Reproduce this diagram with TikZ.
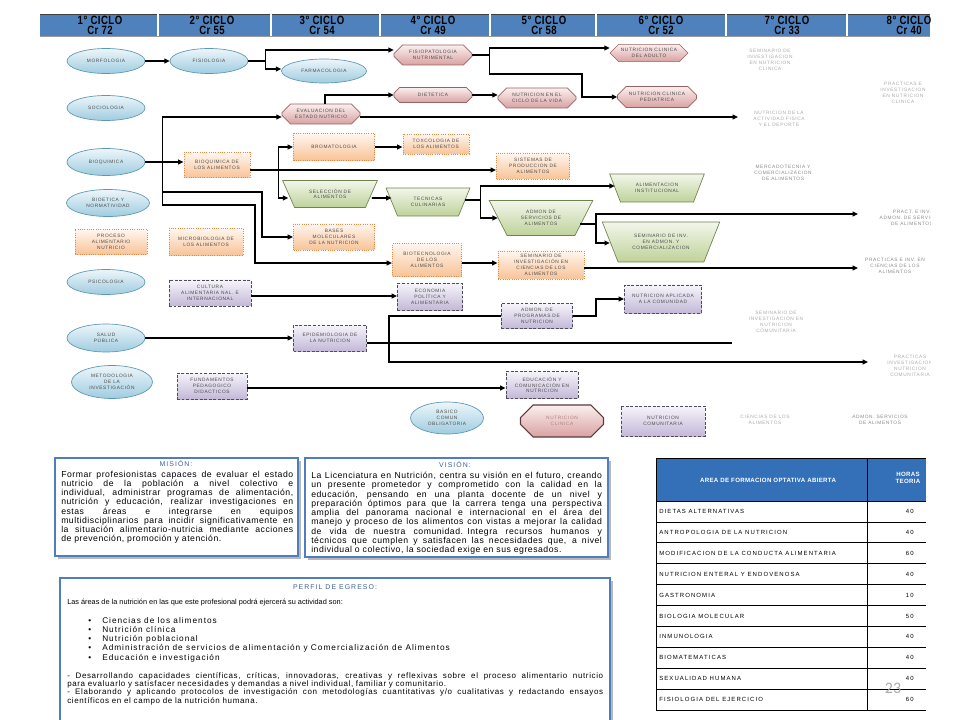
\documentclass[tikz,border=0pt]{standalone}
\usepackage{fontspec}
\setmainfont{Liberation Sans}
\usetikzlibrary{shapes.geometric,shapes.misc,arrows.meta,calc}
\newfontfamily\labff{Liberation Sans}[LetterSpace=13]
\newfontfamily\hdrff{Liberation Sans}[FakeStretch=0.8,LetterSpace=4]
\newfontfamily\bodyff{Liberation Sans}[LetterSpace=6]
\newfontfamily\listff{Liberation Sans}[LetterSpace=12]
\newfontfamily\finff{Liberation Sans}[LetterSpace=8]
\newfontfamily\ttlff{Liberation Sans}[LetterSpace=15]
\newfontfamily\tblff{Liberation Sans}[LetterSpace=18]
\newfontfamily\tblhff{Liberation Sans}[LetterSpace=5]
\newfontfamily\numff{Carlito}
\newcommand\jl[2]{\leavevmode\hbox to #1{\spaceskip=\fontdimen2\font plus 1fil\relax #2}}
\definecolor{ellA}{HTML}{EDF6FA}
\definecolor{ellB}{HTML}{9FCCE0}
\definecolor{ellD}{HTML}{5C98B3}
\definecolor{octA}{HTML}{FBEFEF}
\definecolor{octB}{HTML}{D9A1A1}
\definecolor{octD}{HTML}{9A6262}
\definecolor{ornA}{HTML}{FFF6EE}
\definecolor{ornB}{HTML}{F8C397}
\definecolor{ornD}{HTML}{E38B45}
\definecolor{trpA}{HTML}{F2F6EA}
\definecolor{trpB}{HTML}{BFD29A}
\definecolor{trpD}{HTML}{70834C}
\definecolor{purA}{HTML}{F6F4FA}
\definecolor{purB}{HTML}{C3B8D8}
\definecolor{purD}{HTML}{4D4D5E}
\definecolor{labgray}{HTML}{4C4C4C}
\definecolor{ghostgray}{HTML}{ABABAB}
\definecolor{ghostdark}{HTML}{8A8A8A}
\definecolor{hdrblue}{HTML}{4F81BD}
\definecolor{tblblue}{HTML}{3470B8}
\definecolor{boxblue}{HTML}{4F7DC0}
\definecolor{ttlblue}{HTML}{40618F}
\definecolor{shadowgray}{HTML}{B8B8B8}
\begin{document}
\begin{tikzpicture}[x=0.75pt,y=-0.75pt,
 lab/.style={font={\labff\fontsize{3.6pt}{4.4pt}\selectfont}, text=labgray, align=center, inner sep=0pt},
 sz/.style 2 args={minimum width=#1*0.75pt, minimum height=#2*0.75pt},
 ell/.style={lab, ellipse, draw=ellD, line width=0.5pt, top color=ellA, bottom color=ellB},
 oct/.style={lab, chamfered rectangle, chamfered rectangle xsep=4pt, chamfered rectangle ysep=3pt, draw=octD, line width=0.5pt, top color=octA, bottom color=octB},
 legoct/.style={chamfered rectangle xsep=6pt, chamfered rectangle ysep=6pt, draw=octD!60!black, line width=0.9pt, text=octD!80},
 orn/.style={lab, rectangle, draw=ornD, densely dotted, line width=0.7pt, top color=ornA, bottom color=ornB},
 trp/.style={lab, trapezium, shape border rotate=180, trapezium stretches=true, trapezium left angle=55, trapezium right angle=55, draw=trpD, line width=0.5pt, top color=trpA, bottom color=trpB},
 pur/.style={lab, rectangle, draw=purD, dash pattern=on 2.2pt off 1.2pt, line width=0.7pt, top color=purA, bottom color=purB},
 ghost/.style={lab, text=ghostgray},
 wire/.style={line width=1.2pt, black},
 arr/.style={wire, -{Triangle[length=4pt,width=3.6pt]}},
 hdr/.style={font={\hdrff\bfseries\fontsize{9pt}{7.6pt}\selectfont}, text=black, align=center, inner sep=0pt},
 ttl/.style={font={\ttlff\fontsize{5.2pt}{5.4pt}\selectfont}, text=ttlblue, inner sep=0pt},
 body/.style={font={\bodyff\fontsize{6.5pt}{6.85pt}\selectfont}, text=black, inner sep=0pt, align=left},
 tbl/.style={font={\tblff\fontsize{4.5pt}{5pt}\selectfont}, text=black, inner sep=0pt},
 tblh/.style={font={\tblhff\bfseries\fontsize{4.6pt}{5.2pt}\selectfont}, text=white, inner sep=0pt, align=center}
]
\useasboundingbox (0,0) rectangle (960,720);
\fill[white] (0,0) rectangle (960,720);

\begin{scope}
\clip (0,0) rectangle (930,452);
% header
\fill[hdrblue] (40,14) rectangle (930,36);
\draw[black!75, line width=0.6pt] (40,14) -- (930,14);
\draw[black!40, line width=0.3pt] (40,36) -- (930,36);
\foreach \x in {158,271,380,490,596,726,847} \draw[white, line width=0.8pt] (\x,14.4) -- (\x,36);
\node[hdr] (h1) at (100,25.5) {1° CICLO\\Cr 72};
\node[hdr] (h2) at (212,25.5) {2° CICLO\\Cr 55};
\node[hdr] (h3) at (322,25.5) {3° CICLO\\Cr 54};
\node[hdr] (h4) at (433,25.5) {4° CICLO\\Cr 49};
\node[hdr] (h5) at (544,25.5) {5° CICLO\\Cr 58};
\node[hdr] (h6) at (661,25.5) {6° CICLO\\Cr 52};
\node[hdr] (h7) at (787,25.5) {7° CICLO\\Cr 33};
\node[hdr] (h8) at (909,25.5) {8° CICLO\\Cr 40};

% column 1
\node[ell,sz={78}{25}] (morf) at (106,61) {MORFOLOGIA};
\node[ell,sz={78}{25}] (socio) at (106,108) {SOCIOLOGIA};
\node[ell,sz={78}{27}] (bioq) at (106,162) {BIOQUIMICA};
\node[ell,sz={83}{27}] (bioet) at (108,203) {BIOETICA Y\\NORMATIVIDAD};
\node[orn,sz={72}{25}] (proc) at (111,242) {PROCESO\\ALIMENTARIO\\NUTRICIO};
\node[ell,sz={78}{25}] (psico) at (106,282) {PSICOLOGIA};
\node[ell,sz={78}{28}] (salud) at (106,338) {SALUD\\PÚBLICA};
\node[ell,sz={81}{33}] (metod) at (112,382) {METODOLOGIA\\DE LA\\INVESTIGACIÓN};
% column 2
\node[ell,sz={78}{25}] (fisio) at (209,61) {FISIOLOGIA};
\node[orn,sz={66}{25}] (bioqal) at (217,165) {BIOQUIMICA DE\\LOS ALIMENTOS};
\node[orn,sz={74}{27}] (micro) at (206,242) {MICROBIOLOGIA DE\\LOS ALIMENTOS};
\node[pur,sz={82}{26}] (cult) at (210,293) {CULTURA\\ALIMENTARIA NAL. E\\INTERNACIONAL};
\node[pur,sz={70}{26}] (fund) at (212,386) {FUNDAMENTOS\\PEDAGOGICO\\DIDACTICOS};
% column 3
\node[ell,sz={85}{24}] (farma) at (324,71) {FARMACOLOGIA};
\node[oct,sz={78}{20}] (evalu) at (321,114) {EVALUACION DEL\\ESTADO NUTRICIO};
\node[orn,sz={81}{27}] (broma) at (334,147) {BROMATOLOGIA};
\node[trp,sz={95}{27}] (selec) at (330,194) {SELECCIÓN DE\\ALIMENTOS};
\node[orn,sz={81}{26}] (bases) at (334,237) {BASES\\MOLECULARES\\DE LA NUTRICION};
\node[pur,sz={73}{26}] (epid) at (330,338) {EPIDEMIOLOGIA DE\\LA NUTRICION};
% column 4
\node[oct,sz={78}{20}] (fisiop) at (433,55) {FISIOPATOLOGIA\\NUTRIMENTAL};
\node[oct,sz={78}{15}] (diet) at (433,95) {DIETETICA};
\node[orn,sz={66}{20}] (toxi) at (436,144) {TOXCOLOGIA DE\\LOS ALIMENTOS};
\node[trp,sz={84}{28}] (tecn) at (428,202) {TECNICAS\\CULINARIAS};
\node[orn,sz={69}{33}] (biotec) at (427,260) {BIOTECNOLOGIA\\DE LOS\\ALIMENTOS};
\node[pur,sz={65}{27}] (econ) at (430,297) {ECONOMIA\\POLÍTICA Y\\ALIMENTARIA};
\node[ell,sz={73}{32}] (basico) at (447,418) {BASICO\\COMUN\\OBLIGATORIA};
% column 5
\node[oct,sz={78}{20}] (ciclo) at (537,98) {NUTRICION EN EL\\CICLO DE LA VIDA};
\node[orn,sz={73}{26}] (sist) at (533,166) {SISTEMAS DE\\PRODUCCION DE\\ALIMENTOS};
\node[trp,sz={104}{35}] (admon) at (541,218) {ADMON DE\\SERVICIOS DE\\ALIMENTOS};
\node[orn,sz={86}{28}] (semcien) at (541,265) {SEMINARIO DE\\INVESTIGACIÓN EN\\CIENCIAS DE LOS\\ALIMENTOS};
\node[pur,sz={71}{25}] (admprog) at (537,316) {ADMON. DE\\PROGRAMAS DE\\NUTRICION};
\node[pur,sz={72}{27}] (educ) at (542,385) {EDUCACIÓN Y\\COMUNICACIÓN EN\\NUTRICION};
\node[oct,legoct,sz={83}{32}] (legclin) at (562,421) {NUTRICION\\CLINICA};
% column 6
\node[oct,sz={78}{17}] (adulto) at (649,53) {NUTRICION CLINICA\\DEL ADULTO};
\node[oct,sz={79}{21}] (pedia) at (657,97) {NUTRICION CLINICA\\PEDIATRICA};
\node[trp,sz={95}{28}] (alim) at (657,188) {ALIMENTACION\\INSTITUCIONAL};
\node[trp,sz={118}{40}] (seminv) at (661,242) {SEMINARIO DE INV.\\EN ADMON. Y\\COMERCIALIZACION};
\node[pur,sz={77}{28}] (aplic) at (663,299) {NUTRICION APLICADA\\A LA COMUNIDAD};
\node[pur,sz={84}{30}] (legcom) at (663,421) {NUTRICION\\COMUNITARIA};
% columns 7-8 (faint)
\node[ghost] (g7a) at (770,60) {SEMINARIO DE\\INVESTIGACION\\EN NUTRICION\\CLINICA};
\node[ghost] (g7b) at (779,119) {NUTRICION DE LA\\ACTIVIDAD FISICA\\Y EL DEPORTE};
\node[ghost,text=ghostdark] (g7c) at (783,173) {MERCADOTECNIA Y\\COMERCIALIZACION\\DE ALIMENTOS};
\node[ghost] (g7d) at (776,322) {SEMINARIO DE\\INVESTIGACION EN\\NUTRICION\\COMUNITARIA};
\node[ghost] (g7e) at (765,420) {CIENCIAS DE LOS\\ALIMENTOS};
\node[ghost] (g8a) at (903,93) {PRACTICAS E\\INVESTIGACION\\EN NUTRICION\\CLINICA};
\node[ghost,text=ghostdark] (g8b) at (912,218) {PRACT. E INV.\\ADMON. DE SERVICIOS\\DE ALIMENTOS};
\node[ghost,text=ghostdark] (g8c) at (895,266) {PRACTICAS E INV. EN\\CIENCIAS DE LOS\\ALIMENTOS};
\node[ghost] (g8d) at (910,366) {PRACTICAS\\INVESTIGACION\\NUTRICION\\COMUNITARIA};
\node[ghost,text=ghostdark] (g8e) at (880,420) {ADMON. SERVICIOS\\DE ALIMENTOS};

% connectors
\draw[arr] (morf) -- (fisio);
\coordinate (jf) at ($(fisio.east)+(17,0)$);
\draw[wire] (fisio.east) -- (jf);
\draw[arr] (jf) |- ($(fisiop.west)+(0,-5)$);
\draw[arr] (jf) |- ($(farma.west)+(0,-2)$);
\coordinate (jp) at ($(fisiop.east)+(17,0)$);
\draw[wire] (fisiop.east) -- (jp);
\draw[arr] (jp) |- ($(adulto.west)+(0,-5)$);
\draw[arr] (jp) -- ++(0,19) -| ($(pedia.west)+(-35,0)$) -- (pedia.west);

\draw[arr] (bioq.east) -- (bioq.east -| bioqal.west);
\coordinate (tr) at ($(bioq.east)+(17,0)$);
\draw[arr] (tr) |- ($(evalu.west)+(0,3)$);
\draw[arr] (tr) -- ++(0,30) -| ($(bases.west)+(-31,0)$) -- (bases.west);
\draw[arr] (tr) -- ++(0,43) -| ($(biotec.west)+(-137,3)$) -- ($(biotec.west)+(0,3)$);

\draw[arr] ($(evalu.north)+(4,0)$) |- (diet.west);
\coordinate (e7b) at (738,117);
\draw[arr] ($(evalu.east)+(0,3)$) -- (e7b);
\draw[arr] (diet.east) -- (diet.east -| ciclo.west);

\draw[arr] ($(bioqal.east)+(0,5)$) -- ($(sist.west)+(0,4)$);
\coordinate (jb) at ($(bioqal.east)+(28,5)$);
\draw[arr] (jb) |- (broma.west);
\draw[arr] (jb) |- ($(selec.west)+(0,4)$);
\draw[arr] (broma.east) -- (broma.east -| toxi.west);
\draw[arr] ($(selec.east)+(0,4)$) -- ($(tecn.west)+(0,-4)$);
\coordinate (jt) at ($(tecn.east)+(16,-2)$);
\draw[wire] ($(tecn.east)+(0,-2)$) -- (jt);
\draw[arr] (jt) |- ($(alim.west)+(0,-2)$);
\draw[arr] (jt) |- (admon.west);
\coordinate (ja) at ($(admon.east)+(12,6)$);
\draw[wire] ($(admon.east)+(-4,6)$) -- (ja);
\coordinate (e8b) at (858,214);
\draw[arr] (ja) |- (e8b);
\draw[arr] (ja) |- ($(seminv.west)+(0,1)$);

\draw[arr] ($(biotec.east)+(0,3)$) -- ($(semcien.west)+(0,-2)$);
\coordinate (e8c) at (858,268);
\draw[arr] ($(semcien.east)+(0,3)$) -- (e8c);
\draw[arr] ($(cult.east)+(0,3)$) -- ($(econ.west)+(0,-1)$);
\draw[arr] (salud.east) -- (epid.west);
\coordinate (e7d) at (732,343);
\draw[wire] ($(epid.east)+(0,5)$) -- (e7d);
\coordinate (e8d) at (868,362);
\draw[arr] (admprog.west) -| ($(epid.east)+(22,24)$) -- (e8d);
\draw[arr] ($(fund.east)+(0,2)$) -- ($(educ.west)+(0,3)$);
\draw[arr] (admprog.east) -- ++(23,0) |- (aplic.west);
\end{scope}

% MISION
\fill[shadowgray] (57.5,460.5) rectangle (300.5,558.5);
\draw[boxblue, line width=1.3pt, fill=white] (55,458) rectangle (298,556);
\node[ttl] (mtit) at (176,464) {MISIÓN:};
\node[body, anchor=north west, text width=174pt] (mtxt) at (61,471) {%
\jl{174pt}{Formar profesionistas capaces de evaluar el estado}\\
\jl{174pt}{nutricio de la población a nivel colectivo e}\\
\jl{174pt}{individual, administrar programas de alimentación,}\\
\jl{174pt}{nutrición y educación, realizar investigaciones en}\\
\jl{174pt}{estas áreas e integrarse en equipos}\\
\jl{174pt}{multidisciplinarios para incidir significativamente en}\\
\jl{174pt}{la situación alimentario-nutricia mediante acciones}\\
de prevención, promoción y atención.};

% VISION
\fill[shadowgray] (307.5,460.5) rectangle (610.5,559.5);
\draw[boxblue, line width=1.3pt, fill=white] (305,458) rectangle (608,557);
\node[ttl] (vtit) at (455,465) {VISIÓN:};
\node[body, anchor=north west, text width=218pt, font={\bodyff\fontsize{6.5pt}{6.95pt}\selectfont}] (vtxt) at (311,472) {%
\jl{218pt}{La Licenciatura en Nutrición, centra su visión en el futuro, creando}\\
\jl{218pt}{un presente prometedor y comprometido con la calidad en la}\\
\jl{218pt}{educación, pensando en una planta docente de un nivel y}\\
\jl{218pt}{preparación óptimos para que la carrera tenga una perspectiva}\\
\jl{218pt}{amplia del panorama nacional e internacional en el área del}\\
\jl{218pt}{manejo y proceso de los alimentos con vistas a mejorar la calidad}\\
\jl{218pt}{de vida de nuestra comunidad. Integra recursos humanos y}\\
\jl{218pt}{técnicos que cumplen y satisfacen las necesidades que, a nivel}\\
individual o colectivo, la sociedad exige en sus egresados.};

% PERFIL DE EGRESO
\fill[shadowgray] (62.5,580.5) rectangle (612.5,730);
\draw[boxblue, line width=1.3pt, fill=white] (60,578) rectangle (610,730);
\node[ttl] (ptit) at (335,587) {PERFIL DE EGRESO:};
\node[inner sep=0pt, anchor=west, font=\fontsize{5.5pt}{6pt}\selectfont] (pint) at (67,603) {Las áreas de la nutrición en las que este profesional podrá ejercerá su actividad son:};
\node[inner sep=0pt, anchor=north west, align=left, font={\listff\fontsize{6.2pt}{6.9pt}\selectfont}] (plist) at (88,617) {%
\makebox[10.5pt][l]{•}Ciencias de los alimentos\\
\makebox[10.5pt][l]{•}Nutrición clínica\\
\makebox[10.5pt][l]{•}Nutrición poblacional\\
\makebox[10.5pt][l]{•}Administración de servicios de alimentación y Comercialización de Alimentos\\
\makebox[10.5pt][l]{•}Educación e investigación};
\node[inner sep=0pt, anchor=north west, align=left, text width=402pt, font={\finff\fontsize{6pt}{6.3pt}\selectfont}] (pfin) at (67,672) {%
\jl{402pt}{- Desarrollando capacidades científicas, críticas, innovadoras, creativas y reflexivas sobre el proceso alimentario nutricio}\\
para evaluarlo y satisfacer necesidades y demandas a nivel individual, familiar y comunitario.\\
\jl{402pt}{- Elaborando y aplicando protocolos de investigación con metodologías cuantitativas y/o cualitativas y redactando ensayos}\\
científicos en el campo de la nutrición humana.};

% TABLE
\fill[tblblue] (656,458) rectangle (926,501);
\draw[black, line width=0.6pt] (656,458) -- (926,458);
\foreach \k in {0,...,10} \draw[black, line width=0.5pt] (656,{501+20.9*\k}) -- (926,{501+20.9*\k});
\draw[black, line width=0.6pt] (656,458) -- (656,710);
\draw[black, line width=0.6pt] (867,458) -- (867,710);
\node[tblh] (th1) at (768,480) {AREA DE FORMACION OPTATIVA ABIERTA};
\node[tblh] (th2) at (908,478) {HORAS\\TEORIA};
\foreach \t/\v [count=\k from 0] in {DIETAS ALTERNATIVAS/40, ANTROPOLOGIA DE LA NUTRICION/40, MODIFICACION DE LA CONDUCTA ALIMENTARIA/60, NUTRICION ENTERAL Y ENDOVENOSA/40, GASTRONOMIA/10, BIOLOGIA MOLECULAR/50, INMUNOLOGIA/40, BIOMATEMATICAS/40, SEXUALIDAD HUMANA/40, FISIOLOGIA DEL EJERCICIO/60} {
 \node[tbl, anchor=west] (r\k) at (659,{511.5+20.9*\k}) {\t};
 \node[tbl, anchor=east] (v\k) at (914,{511.5+20.9*\k}) {\v};
}
\node[font={\numff\fontsize{12pt}{12pt}\selectfont}, text=black!33, inner sep=0pt] (pg) at (893,688) {23};
\end{tikzpicture}
\end{document}
